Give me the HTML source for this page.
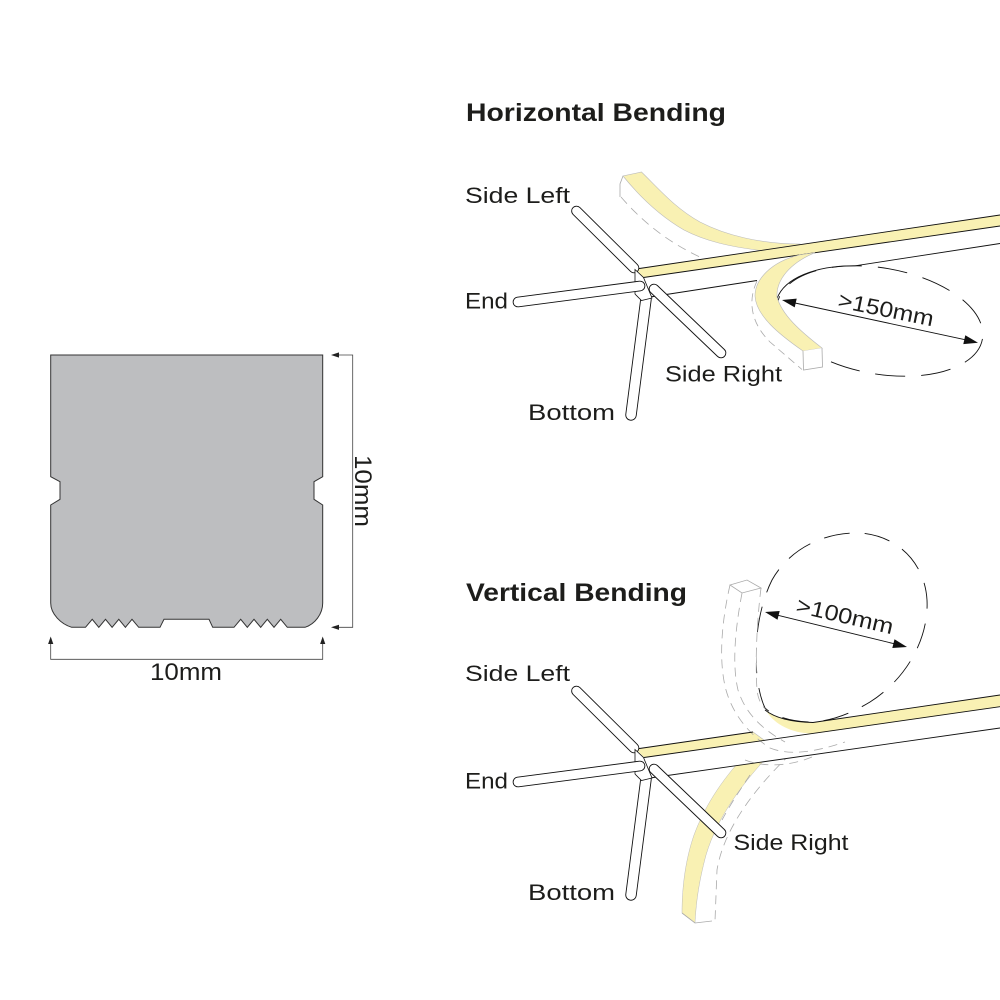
<!DOCTYPE html>
<html>
<head>
<meta charset="utf-8">
<style>
  html,body{margin:0;padding:0;background:#fff;}
  svg{display:block;}
  .lbl{font-family:"Liberation Sans",sans-serif;font-size:22px;fill:#1d1d1b;}
  .ttl{font-family:"Liberation Sans",sans-serif;font-size:25px;font-weight:bold;fill:#1d1d1b;}
</style>
</head>
<body>
<svg width="1000" height="1000" viewBox="0 0 1000 1000" xmlns="http://www.w3.org/2000/svg">
  <rect width="1000" height="1000" fill="#fff"/>

  <!-- ================= CROSS SECTION ================= -->
  <path d="M50.7,355 L322.7,355 L322.7,476.7 L314,481.7 L314,499.3 L322.7,505 L322.7,603 C322.7,614 315,624 305,627.3
           L287.3,627.3 L280.7,619.3 L274,627.3 L267.3,619.3 L260.7,627.3 L254,619.3 L247.3,627.3 L240.7,619.3 L234,627.3
           L212.7,627.3 L209,619.3 L164,619.3 L160,627.3
           L138.7,627.3 L132,619.3 L125.4,627.3 L118.8,619.3 L112.1,627.3 L105.5,619.3 L98.8,627.3 L92.2,619.3 L85.5,627.3
           L71.7,627.3 C61,624 50.7,614 50.7,603 L50.7,505 L60,499.3 L60,481.7 L50.7,476.7 Z"
        fill="#bdbec0" stroke="#333" stroke-width="1"/>
  <g stroke="#444" stroke-width="0.8" fill="none">
    <polyline points="338,355 352.7,355 352.7,627.3 338,627.3"/>
    <polyline points="50.7,643 50.7,659.3 322.7,659.3 322.7,643"/>
  </g>
  <g fill="#222">
    <polygon points="331,355 339,352.4 339,357.6"/>
    <polygon points="331,627.3 339,624.7 339,629.9"/>
    <polygon points="50.7,636.5 48.1,644 53.3,644"/>
    <polygon points="322.7,636.5 320.1,644 325.3,644"/>
  </g>
  <text class="lbl" style="font-size:24px" x="150" y="680" textLength="72" lengthAdjust="spacingAndGlyphs">10mm</text>
  <text class="lbl" style="font-size:24px" transform="translate(355,455) rotate(90)" textLength="72" lengthAdjust="spacingAndGlyphs">10mm</text>

  <!-- ================= HORIZONTAL BENDING ================= -->
  <text class="ttl" x="466" y="121" textLength="260" lengthAdjust="spacingAndGlyphs">Horizontal Bending</text>

  <!-- ghost upper band -->
  <path d="M621,197 C640,219 665,241 702,258" fill="none" stroke="#aaa" stroke-width="0.8" stroke-dasharray="9 6"/>
  <path d="M623,176 L620,184 L620,197" fill="none" stroke="#aaa" stroke-width="0.8"/>
  <path d="M623,176 C640,197 660,216 684,230 C705,241 730,247 765,251 L800,252 L800,244 C760,244 725,235 700,222 C675,208 660,190 641.5,172 Z"
        fill="#f9f1b3" stroke="#bbb" stroke-width="0.6"/>

  <!-- main strip -->
  <polygon points="643.5,277.5 1000,226 1000,243.5 650,298" fill="#fff"/>
  <polygon points="636,269 1000,215 1000,226 643.5,277.5" fill="#f9f1b3"/>
  <g stroke="#111" stroke-width="0.9" fill="none">
    <line x1="636" y1="269" x2="1000" y2="215"/>
    <line x1="643.5" y1="277.5" x2="1000" y2="226"/>
    <line x1="650" y1="297" x2="757" y2="280.5"/>
    <line x1="855.2" y1="265.8" x2="1000" y2="243.5"/>
  </g>

  <!-- ellipse -->
  <ellipse cx="880" cy="321" rx="104" ry="53" transform="rotate(10 880 321)" fill="none" stroke="#111" stroke-width="0.9" stroke-dasharray="30 16"/>
  <path d="M777.1,298.4 A104 53 10 0 1 855.2,265.8" fill="none" stroke="#111" stroke-width="0.9"/>

  <!-- bent band -->
  <path d="M757,281 C748,300 750,322 770,342 L802,369.5" fill="none" stroke="#aaa" stroke-width="0.8" stroke-dasharray="8 5"/>
  <path d="M800,254.8 C770,262 755,280 755,296 C756,316 780,335 803,351 L822,348 C800,331 782,315 777,297 C776,280 790,263 815,252.7 Z"
        fill="#f9f1b3" stroke="#bbb" stroke-width="0.6"/>
  <path d="M803,351 L803.5,370 L822.5,367 L822,348" fill="#fff" stroke="#aaa" stroke-width="0.8"/>

  <!-- rods + block (horizontal) -->
  <g stroke-linecap="round">
    <line x1="576.5" y1="211" x2="634" y2="268" stroke="#111" stroke-width="10.6"/>
    <line x1="576.5" y1="211" x2="634" y2="268" stroke="#fff" stroke-width="8.8"/>
    <line x1="646" y1="299" x2="631" y2="415" stroke="#111" stroke-width="11.4"/>
    <line x1="646" y1="299" x2="631" y2="415" stroke="#fff" stroke-width="9.6"/>
  </g>
  <polygon points="635,269.5 643.5,277.5 652,298 641.5,300.5 635,294" fill="#fff" stroke="#111" stroke-width="0.8"/>
  <g stroke-linecap="round">
    <line x1="518" y1="302" x2="640" y2="286" stroke="#111" stroke-width="10.6"/>
    <line x1="518" y1="302" x2="640" y2="286" stroke="#fff" stroke-width="8.8"/>
    <line x1="654" y1="289" x2="721" y2="353" stroke="#111" stroke-width="10.6"/>
    <line x1="654" y1="289" x2="721" y2="353" stroke="#fff" stroke-width="8.8"/>
  </g>

  <!-- arrow H -->
  <line x1="795" y1="303" x2="965" y2="339.7" stroke="#111" stroke-width="0.9"/>
  <polygon points="782,300 796.7,298.6 794.7,307.4" fill="#111"/>
  <polygon points="978,342.7 965.3,335.3 963.3,344.1" fill="#111"/>
  <text class="lbl" transform="translate(837,307) rotate(11.5)" textLength="97" lengthAdjust="spacingAndGlyphs">&gt;150mm</text>

  <text class="lbl" x="465" y="203" textLength="105" lengthAdjust="spacingAndGlyphs">Side Left</text>
  <text class="lbl" x="465" y="308.5" textLength="43" lengthAdjust="spacingAndGlyphs">End</text>
  <text class="lbl" x="528" y="420" textLength="87" lengthAdjust="spacingAndGlyphs">Bottom</text>
  <text class="lbl" x="665" y="381.5" textLength="117" lengthAdjust="spacingAndGlyphs">Side Right</text>

  <!-- ================= VERTICAL BENDING ================= -->
  <text class="ttl" x="466" y="601" textLength="221" lengthAdjust="spacingAndGlyphs">Vertical Bending</text>

  <!-- circle -->
  <path d="M808,722 C790,721 773,716 765,708 C752,680 752,620 772,580 C790,548 825,532 860,533 C900,536 925,565 927,600 C929,640 905,680 870,702 C850,714 830,722 808,722 Z"
        fill="none" stroke="#111" stroke-width="0.9" stroke-dasharray="26 15"/>

  <!-- ghost vertical strip -->
  <path d="M730,585 L747,580 L761,588 C757,620 755,660 757,690 C758,700 762,706 767,711 L745,722 C735,712 728,700 726,690 C718,660 722,620 730,585 Z" fill="#fff"/>

  <!-- descending yellow band -->
  <path d="M745,755 L772,752 C745,780 718,815 706,855 C698,885 696,905 695,923 L682,913 C682,885 686,858 694,835 C704,808 720,782 745,755 Z"
        fill="#f9f1b3" stroke="#bbb" stroke-width="0.5"/>
  <g fill="none" stroke="#aaa" stroke-width="0.8" stroke-dasharray="9 6">
    <path d="M813,734 C770,770 725,820 717,870 L715,921"/>
  </g>
  <path d="M682,913 L695,923 L712,921" fill="none" stroke="#aaa" stroke-width="0.8"/>

  <!-- straight strip -->
  <polygon points="644,757.5 1000,706.7 1000,728 650,778" fill="#fff"/>
  <polygon points="636,749 753,732 765,740.7 644,757.5" fill="#f9f1b3"/>
  <path d="M753,732 L765,740.7" stroke="#bbb" stroke-width="0.6" fill="none"/>

  <!-- ghost dashed lines -->
  <g fill="none" stroke="#aaa" stroke-width="0.8" stroke-dasharray="9 6">
    <path d="M730,585 C722,620 718,660 726,690 C733,715 750,735 770,748 C790,756 815,752 845,742"/>
    <path d="M742,593 C735,630 732,665 738,690 C745,712 760,728 785,742"/>
    <path d="M761,588 C757,620 755,660 757,690 C758,700 762,706 767,711"/>
    <path d="M745,760 C760,766 785,768 812,757"/>
    <path d="M750,775 C740,790 730,805 722,820"/>
  </g>
  <path d="M730,585 L747,580 L761,588 L742,593 Z" fill="none" stroke="#aaa" stroke-width="0.8"/>

  <!-- right yellow crescent + strip -->
  <path d="M765,710 C775,718 790,722 813,722.5 L1000,695 L1000,706.7 L817,733.3 C795,735 775,725 767,712 Z" fill="#f9f1b3"/>
  <g stroke="#111" stroke-width="0.9" fill="none">
    <path d="M765,710 C775,718 790,722 813,722.5 L1000,695"/>
    <line x1="636" y1="749" x2="753" y2="732"/>
    <line x1="644" y1="757.5" x2="1000" y2="706.7"/>
    <line x1="650" y1="778" x2="1000" y2="728"/>
  </g>

  <!-- rods + block (vertical) -->
  <g stroke-linecap="round">
    <line x1="576.5" y1="691" x2="634" y2="748" stroke="#111" stroke-width="10.6"/>
    <line x1="576.5" y1="691" x2="634" y2="748" stroke="#fff" stroke-width="8.8"/>
    <line x1="646" y1="779" x2="631" y2="895" stroke="#111" stroke-width="11.4"/>
    <line x1="646" y1="779" x2="631" y2="895" stroke="#fff" stroke-width="9.6"/>
  </g>
  <polygon points="635,749.5 643.5,757.5 652,778 641.5,780.5 635,774" fill="#fff" stroke="#111" stroke-width="0.8"/>
  <g stroke-linecap="round">
    <line x1="518" y1="782" x2="640" y2="766" stroke="#111" stroke-width="10.6"/>
    <line x1="518" y1="782" x2="640" y2="766" stroke="#fff" stroke-width="8.8"/>
    <line x1="654" y1="769" x2="721" y2="833" stroke="#111" stroke-width="10.6"/>
    <line x1="654" y1="769" x2="721" y2="833" stroke="#fff" stroke-width="8.8"/>
  </g>

  <!-- arrow V -->
  <line x1="778" y1="615.3" x2="894" y2="643.7" stroke="#111" stroke-width="0.9"/>
  <polygon points="765,612 777.5,619.7 779.7,611" fill="#111"/>
  <polygon points="907,647 892.3,648 894.5,639.3" fill="#111"/>
  <text class="lbl" transform="translate(795,612) rotate(13)" textLength="99" lengthAdjust="spacingAndGlyphs">&gt;100mm</text>

  <text class="lbl" x="465" y="681" textLength="105" lengthAdjust="spacingAndGlyphs">Side Left</text>
  <text class="lbl" x="465" y="788.5" textLength="43" lengthAdjust="spacingAndGlyphs">End</text>
  <text class="lbl" x="528" y="900" textLength="87" lengthAdjust="spacingAndGlyphs">Bottom</text>
  <text class="lbl" x="733.5" y="850" textLength="115" lengthAdjust="spacingAndGlyphs">Side Right</text>
</svg>
</body>
</html>
